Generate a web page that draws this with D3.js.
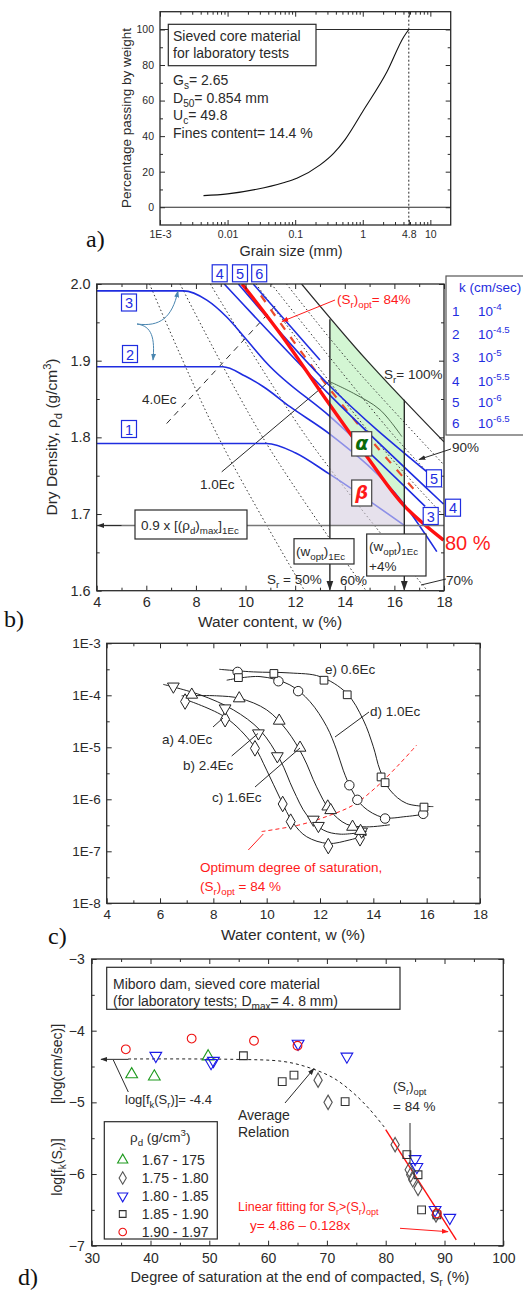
<!DOCTYPE html>
<html>
<head>
<meta charset="utf-8">
<script src="https://cdn.jsdelivr.net/npm/d3@7"></script>
<style>
body { margin: 0; background: #fff; }
svg { font-family: "Liberation Sans", Arial, sans-serif; }
</style>
</head>
<body>
<div id="chart"></div>
<script>
// ---------- a) grading curve ----------
const grainSize = [0.0044, 0.01, 0.027, 0.067, 0.106, 0.234, 0.37, 0.551, 1.03, 2.28, 4.03, 4.8];
const grainPassing = [6.5, 7.5, 10.1, 13.8, 16.3, 23.8, 30.3, 38.2, 54.7, 76.2, 95.8, 100];
const grainTicks = [0.001, 0.01, 0.1, 1, 4.8, 10];
const grainTickLabels = ['1E-3', '0.01', '0.1', '1', '4.8', '10'];
const passTicks = [0, 20, 40, 60, 80, 100];

// ---------- b) compaction plane, points are [w (%), rho_d] ----------
const kLine1 = [[4, 1.792], [10.85, 1.792], [12.0, 1.780], [13.34, 1.753], [16.43, 1.6845]];
const kLine2 = [[4, 1.892], [9.08, 1.892], [9.98, 1.880], [10.72, 1.866], [11.79, 1.840], [13.41, 1.804], [16.36, 1.714], [17.71, 1.651]];
const kLine3 = [[4, 1.991], [7.5, 1.991], [8.44, 1.979], [9.24, 1.957], [10.05, 1.927], [10.85, 1.897], [13.41, 1.827], [17.24, 1.710]];
const kLine4 = [[9.14, 2.0], [13.4, 1.855], [17.98, 1.713]];
const kLine5 = [[9.71, 2.0], [13.4, 1.867], [17.29, 1.7555]];
const kLine6 = [[10.31, 2.0], [13.0, 1.901]];
const kNumbers = ['1', '2', '3', '4', '5', '6'];
const kExponents = ['-4', '-4.5', '-5', '-5.5', '-6', '-6.5'];

const sr50 = [[6.13, 2.0], [8.91, 1.8], [12.38, 1.6]];
const sr60 = [[7.36, 2.0], [10.69, 1.8], [14.86, 1.6]];
const sr70 = [[8.58, 2.0], [12.47, 1.8], [17.33, 1.6]];
const sr85 = [[10.42, 2.0], [15.15, 1.8], [18, 1.6975]];
const sr90 = [[11.04, 2.0], [16.04, 1.8], [18, 1.732]];
const sr95 = [[11.65, 2.0], [14.15, 1.9], [18, 1.764]];
const sr100 = [[12.26, 2.0], [14.90, 1.9], [18, 1.794]];
const srOpt84 = [[10.62, 1.985], [12.51, 1.9], [14.97, 1.8], [16.85, 1.73]];
const sr80Red = [[9.86, 2.0], [11.52, 1.930], [13.21, 1.851], [14.89, 1.775], [16.36, 1.712], [17.98, 1.666]];
const optLine = [[9.04, 1.755], [13.37, 1.873]];
const curve1Ec = [[13.37, 1.873], [14.35, 1.8575], [15.42, 1.836], [16.3, 1.801]];
const dashed4Ec = [[6.82, 1.818], [11.3, 1.975]];
const greenZone = [[13.4, 1.954], [16.4, 1.849], [16.4, 1.685], [13.4, 1.685]];
const wOpt = 13.4, wOptPlus = 16.4, rho90 = 1.685;

// ---------- c) k vs w, values are [w (%), log10 k] ----------
const ptsA = [[6.94, -4.12], [8.44, -4.46], [9.56, -5.02], [10.6, -6.09], [10.9, -6.43], [12.31, -6.90], [13.5, -6.75]];
const ptsB = [[6.5, -3.83], [8.44, -4.25], [9.69, -4.73], [10.4, -5.17], [11.75, -6.39], [11.94, -6.51], [13.56, -6.62]];
const ptsC = [[7.19, -3.99], [8.97, -4.06], [10.47, -4.49], [11.25, -5.01], [12.29, -6.14], [12.4, -6.21], [13.22, -6.53], [13.52, -6.61]];
const ptsD = [[8.91, -3.55], [10.44, -3.73], [11.18, -3.92], [13.1, -5.73], [13.4, -6.01], [14.44, -6.37], [15.87, -6.28]];
const ptsE = [[8.94, -3.66], [10.27, -3.58], [12.15, -3.71], [13.02, -3.99], [14.29, -5.57], [14.44, -5.68], [15.9, -6.15]];
const fitA = [[7.0, -4.09], [8.44, -4.42], [9.5, -4.96], [10.0, -5.44], [10.5, -5.98], [11.0, -6.46], [11.5, -6.72], [12.31, -6.85], [13.12, -6.78], [13.75, -6.69]];
const fitB = [[6.12, -3.79], [7.5, -3.99], [8.75, -4.28], [9.75, -4.67], [10.5, -5.24], [11.0, -5.82], [11.5, -6.30], [12.12, -6.59], [12.75, -6.67], [13.75, -6.62]];
const fitC = [[6.81, -4.01], [8.12, -4.01], [9.0, -4.06], [10.0, -4.28], [10.75, -4.67], [11.37, -5.18], [11.87, -5.76], [12.37, -6.21], [13.0, -6.48], [13.75, -6.53], [14.62, -6.49]];
const fitD = [[8.5, -3.71], [9.75, -3.64], [10.87, -3.80], [11.62, -4.12], [12.25, -4.60], [12.62, -5.05], [12.87, -5.44], [13.19, -5.82], [13.62, -6.14], [14.37, -6.35], [15.25, -6.33], [16.0, -6.28]];
const fitE = [[8.22, -3.5], [9.5, -3.55], [10.87, -3.57], [12.0, -3.64], [13.0, -3.96], [13.62, -4.47], [14.0, -4.99], [14.25, -5.44], [14.62, -5.82], [15.25, -6.08], [16.25, -6.14]];
const optSatLine = [[9.81, -6.62], [11.25, -6.49], [12.25, -6.33], [13.25, -6.11], [14.12, -5.76], [15.0, -5.31], [15.62, -4.96]];
const kTickLabels = ['1E-8', '1E-7', '1E-6', '1E-5', '1E-4', '1E-3'];

// ---------- d) log fk vs Sr, values are [Sr (%), log fk] ----------
const dGreen = [[36.8, -4.61], [40.65, -4.64], [49.8, -4.36]];
const dDiamond = [[68.5, -4.69], [70.2, -5.0], [81.6, -5.59], [84.0, -5.94], [84.25, -6.01], [84.6, -6.08], [85.5, -6.2], [88.55, -6.57]];
const dBlue = [[40.9, -4.35], [50.3, -4.45], [50.7, -4.42], [65.1, -4.18], [73.4, -4.36], [85.0, -5.79], [85.3, -5.90], [88.4, -6.50], [90.9, -6.61]];
const dSquare = [[55.8, -4.35], [62.4, -4.71], [64.4, -4.62], [73.1, -4.99], [83.6, -5.73], [85.5, -6.01], [86.1, -6.50], [88.7, -6.57]];
const dRed = [[35.8, -4.26], [47.0, -4.11], [57.6, -4.14], [65.0, -4.21], [88.7, -6.55]];
const avgRelation = [[36.2, -4.395], [54.1, -4.40], [62.6, -4.43], [67.1, -4.52], [71.1, -4.66], [74.5, -4.87], [77.3, -5.1], [79.9, -5.36]];
const linearFit = [[80, -5.38], [92, -6.92]];
const rhoClasses = ['1.67 - 175', '1.75 - 1.80', '1.80 - 1.85', '1.85 - 1.90', '1.90 - 1.97'];

// ===================================================================
const INK = '#2a2a2a';
const BLUE = '#1f2de0';
const svg = d3.select('#chart').append('svg').attr('width', 523).attr('height', 1291);

const defs = svg.append('defs');
function arrowDef(id, color) {
    defs.append('marker').attr('id', id).attr('viewBox', '0 0 10 10')
        .attr('refX', 9).attr('refY', 5).attr('markerWidth', 7).attr('markerHeight', 7)
        .attr('orient', 'auto-start-reverse')
        .append('path').attr('d', 'M0,1.5 L10,5 L0,8.5 Z').attr('fill', color);
}
arrowDef('arrK', INK);
arrowDef('arrR', '#ff1a1a');
arrowDef('arrB', '#4a86b0');

// text with sub/superscripts
function rich(g, x, y, parts, o) {
    const fs = o.fs;
    const t = g.append('text').attr('x', x).attr('y', y).attr('font-size', fs)
        .attr('fill', o.fill || INK).attr('text-anchor', o.anchor || 'start');
    if (o.transform) t.attr('transform', o.transform);
    if (o.weight) t.attr('font-weight', o.weight);
    let shift = 0;
    parts.forEach(p => {
        const [s, m] = Array.isArray(p) ? p : [p, null];
        const target = m === 'sub' ? fs * 0.3 : m === 'sup' ? -fs * 0.42 : 0;
        t.append('tspan').attr('dy', target - shift).attr('font-size', m ? fs * 0.72 : fs).text(s);
        shift = target;
    });
    return t;
}

function frame(g, x, y, o) {
    const [x0, x1] = x.range();
    const [y0, y1] = y.range();
    const side = (axis, tr, vals, size, fmt, fs) => {
        const a = g.append('g').attr('transform', tr)
            .call(axis.tickValues(vals).tickSize(size).tickPadding(o.pad || 5).tickFormat(fmt || (() => '')));
        a.select('.domain').remove();
        a.selectAll('line').attr('stroke', INK);
        a.selectAll('text').attr('font-size', fs || 12).attr('fill', INK)
            .attr('font-family', '"Liberation Sans", Arial, sans-serif');
        return a;
    };
    side(d3.axisBottom(x), `translate(0,${y0})`, o.xMajor, -5, o.xFmt, o.fs);
    side(d3.axisBottom(x), `translate(0,${y0})`, o.xMinor, -3);
    side(d3.axisTop(x), `translate(0,${y1})`, o.xMajor, -5);
    side(d3.axisTop(x), `translate(0,${y1})`, o.xMinor, -3);
    side(d3.axisLeft(y), `translate(${x0},0)`, o.yMajor, -5, o.yFmt, o.fs);
    side(d3.axisLeft(y), `translate(${x0},0)`, o.yMinor, -3);
    side(d3.axisRight(y), `translate(${x1},0)`, o.yMajor, -5);
    side(d3.axisRight(y), `translate(${x1},0)`, o.yMinor, -3);
    g.append('rect').attr('x', x0).attr('y', y1).attr('width', x1 - x0).attr('height', y0 - y1)
        .attr('fill', 'none').attr('stroke', INK).attr('stroke-width', 1.3);
}

function panelTag(label, x, y) {
    svg.append('text').attr('x', x).attr('y', y).attr('font-family', '"Liberation Serif", serif')
        .attr('font-size', 24).attr('fill', '#111').text(label);
}

function boxed(g, x, y, w, h, stroke) {
    g.append('rect').attr('x', x).attr('y', y).attr('width', w).attr('height', h)
        .attr('fill', '#fff').attr('stroke', stroke || INK).attr('stroke-width', 1.2);
}

// ===================== panel a =====================
const ax = d3.scaleLog().domain([1e-3, 20]).range([160, 450.7]);
const ay = d3.scaleLinear().domain([-10, 110]).range([225, 11.7]);
const ga = svg.append('g');
const logMinor = [];
[-3, -2, -1, 0, 1].forEach(e => d3.range(2, 10).forEach(m => {
    const v = m * Math.pow(10, e);
    if (v < 20) logMinor.push(v);
}));
frame(ga, ax, ay, {
    xMajor: grainTicks, xMinor: logMinor, xFmt: (d, i) => grainTickLabels[i],
    yMajor: passTicks, yMinor: [10, 30, 50, 70, 90], yFmt: d3.format('d'), fs: 10.5, pad: 6
});
[0, 100].forEach(v => ga.append('line').attr('x1', ax.range()[0]).attr('x2', ax.range()[1])
    .attr('y1', ay(v)).attr('y2', ay(v)).attr('stroke', INK).attr('stroke-width', 1.2));
ga.append('line').attr('x1', ax(4.8)).attr('x2', ax(4.8)).attr('y1', ay(110)).attr('y2', ay(-10))
    .attr('stroke', INK).attr('stroke-dasharray', '2,2');
ga.append('path').datum(d3.zip(grainSize, grainPassing))
    .attr('fill', 'none').attr('stroke', '#111').attr('stroke-width', 1.1)
    .attr('d', d3.line().x(d => ax(d[0])).y(d => ay(d[1])).curve(d3.curveMonotoneX));
boxed(ga, 168.3, 24.3, 147.7, 41.4);
ga.append('text').attr('x', 173).attr('y', 41).attr('font-size', 14).attr('fill', INK).text('Sieved core material');
ga.append('text').attr('x', 173).attr('y', 58).attr('font-size', 14).attr('fill', INK).text('for laboratory tests');
rich(ga, 173, 85, ['G', ['s', 'sub'], '= 2.65'], { fs: 14 });
rich(ga, 173, 103, ['D', ['50', 'sub'], '= 0.854 mm'], { fs: 14 });
rich(ga, 173, 120, ['U', ['c', 'sub'], '= 49.8'], { fs: 14 });
ga.append('text').attr('x', 173).attr('y', 138).attr('font-size', 14).attr('fill', INK).text('Fines content= 14.4 %');
ga.append('text').attr('x', 291).attr('y', 256).attr('text-anchor', 'middle').attr('font-size', 14.5).attr('fill', INK).text('Grain size (mm)');
ga.append('text').attr('transform', 'translate(131,118) rotate(-90)').attr('text-anchor', 'middle')
    .attr('font-size', 13.5).attr('fill', INK).text('Percentage passing by weight');
panelTag('a)', 86, 247);

// ===================== panel b =====================
const bx = d3.scaleLinear().domain([4, 18]).range([96.7, 444]);
const by = d3.scaleLinear().domain([1.6, 2.0]).range([590.7, 284]);
const gb = svg.append('g');
defs.append('clipPath').attr('id', 'clipB').append('rect')
    .attr('x', 96.7).attr('y', 284).attr('width', 444 - 96.7).attr('height', 590.7 - 284);
defs.append('clipPath').attr('id', 'clipZone').append('rect')
    .attr('x', bx(wOpt)).attr('y', 284).attr('width', bx(wOptPlus) - bx(wOpt)).attr('height', by(rho90) - 284);
const bLine = d3.line().x(d => bx(d[0])).y(d => by(d[1]));
const bCurve = d3.line().x(d => bx(d[0])).y(d => by(d[1])).curve(d3.curveCatmullRom);
const lavArea = d3.area().x(d => bx(d[0])).y0(by(rho90)).y1(d => by(d[1])).curve(d3.curveCatmullRom);

const plotB = gb.append('g').attr('clip-path', 'url(#clipB)');
plotB.append('path').attr('fill', '#d3f6d3').attr('d', bLine(greenZone) + 'Z');
plotB.append('g').attr('clip-path', 'url(#clipZone)').append('path').datum(sr80Red)
    .attr('fill', '#e5dfea').attr('d', lavArea);

[sr50, sr60, sr70, sr85, sr90, sr95].forEach(s => plotB.append('path').datum(s)
    .attr('fill', 'none').attr('stroke', '#333').attr('stroke-width', 1).attr('stroke-dasharray', '1.5,2.5')
    .attr('d', bCurve));
plotB.append('path').datum(sr100).attr('fill', 'none').attr('stroke', INK).attr('stroke-width', 1.2).attr('d', bCurve);
plotB.append('path').datum(dashed4Ec).attr('fill', 'none').attr('stroke', INK).attr('stroke-width', 1)
    .attr('stroke-dasharray', '6,5').attr('d', bCurve);
plotB.append('path').datum(optLine).attr('fill', 'none').attr('stroke', INK).attr('stroke-width', 1).attr('d', bCurve);
plotB.append('path').datum(curve1Ec).attr('fill', 'none').attr('stroke', '#4d6b4d').attr('stroke-width', 1).attr('d', bCurve);
plotB.append('path').datum(srOpt84).attr('fill', 'none').attr('stroke', '#ec4a2c').attr('stroke-width', 2.2)
    .attr('stroke-dasharray', '8,9').attr('d', bCurve);

[kLine1, kLine2, kLine3, kLine4, kLine5, kLine6].forEach(k => plotB.append('path').datum(k)
    .attr('fill', 'none').attr('stroke', BLUE).attr('stroke-width', 1.6)
    .attr('d', d3.line().x(d => bx(d[0])).y(d => by(d[1])).curve(d3.curveMonotoneX)));

// lighten what lies inside the beta zone
plotB.append('g').attr('clip-path', 'url(#clipZone)').append('path').datum(sr80Red)
    .attr('fill', '#e8e2ed').attr('opacity', 0.55).attr('d', lavArea);
plotB.append('path').datum(sr80Red).attr('fill', 'none').attr('stroke', '#ff1010').attr('stroke-width', 3.4)
    .attr('d', bCurve);

// zone frame, 0.9 line and arrows
gb.append('line').attr('x1', bx(4)).attr('x2', bx(18)).attr('y1', by(rho90)).attr('y2', by(rho90))
    .attr('stroke', '#777').attr('stroke-width', 1.5);
gb.append('line').attr('x1', bx(5)).attr('x2', bx(4) + 1).attr('y1', by(rho90)).attr('y2', by(rho90))
    .attr('stroke', INK).attr('stroke-width', 1).attr('marker-end', 'url(#arrK)');
gb.append('line').attr('x1', bx(wOpt)).attr('x2', bx(wOpt)).attr('y1', by(greenZone[0][1])).attr('y2', by(1.6) - 1)
    .attr('stroke', INK).attr('stroke-width', 1.4).attr('marker-end', 'url(#arrK)');
gb.append('line').attr('x1', bx(wOptPlus)).attr('x2', bx(wOptPlus)).attr('y1', by(greenZone[1][1])).attr('y2', by(1.6) - 1)
    .attr('stroke', INK).attr('stroke-width', 1.4).attr('marker-end', 'url(#arrK)');

frame(gb, bx, by, {
    xMajor: d3.range(4, 19, 2), xMinor: d3.range(5, 18, 2), xFmt: d3.format('d'),
    yMajor: [1.6, 1.7, 1.8, 1.9, 2.0], yMinor: [1.65, 1.75, 1.85, 1.95], yFmt: d3.format('.1f'), fs: 14.5, pad: 6
});

// number boxes
function numBox(cx, cy, label) {
    gb.append('rect').attr('x', cx - 7.5).attr('y', cy - 8.5).attr('width', 15).attr('height', 17)
        .attr('fill', '#fff').attr('stroke', BLUE).attr('stroke-width', 1.2);
    gb.append('text').attr('x', cx).attr('y', cy + 5.5).attr('text-anchor', 'middle')
        .attr('font-size', 14.5).attr('fill', BLUE).text(label);
}
numBox(129, 302.5, kNumbers[2]);
numBox(130, 354, kNumbers[1]);
numBox(129, 429, kNumbers[0]);
numBox(219.7, 273.3, kNumbers[3]);
numBox(240, 273.3, kNumbers[4]);
numBox(259.2, 273.3, kNumbers[5]);
numBox(434, 478.3, kNumbers[4]);
numBox(453, 507.7, kNumbers[3]);
numBox(430.7, 516, kNumbers[2]);

// k legend
gb.append('rect').attr('x', 446).attr('y', 276).attr('width', 90).attr('height', 159)
    .attr('fill', '#fff').attr('stroke', '#555').attr('stroke-width', 1.2);
gb.append('text').attr('x', 459).attr('y', 292).attr('font-size', 13.5).attr('fill', BLUE).text('k (cm/sec)');
[316, 339, 362, 386, 407, 428].forEach((yy, i) => {
    gb.append('text').attr('x', 452).attr('y', yy).attr('font-size', 13.5).attr('fill', BLUE).text(kNumbers[i]);
    rich(gb, 478, yy, ['10', [kExponents[i], 'sup']], { fs: 13.5, fill: BLUE });
});

// blue curved arrows
gb.append('path').attr('d', 'M137,324 C160,327 172,318 178,291').attr('fill', 'none')
    .attr('stroke', '#4a86b0').attr('stroke-width', 1).attr('marker-end', 'url(#arrB)');
gb.append('path').attr('d', 'M137,324 C152,326 155,338 153,360').attr('fill', 'none')
    .attr('stroke', '#4a86b0').attr('stroke-width', 1).attr('marker-end', 'url(#arrB)');

// annotations
rich(gb, 384, 379, ['S', ['r', 'sub'], '= 100%'], { fs: 13.5 });
rich(gb, 337, 304, ['(S', ['r', 'sub'], ')', ['opt', 'sub'], '= 84%'], { fs: 13.5, fill: '#ff1a1a' });
gb.append('line').attr('x1', 335).attr('y1', 300).attr('x2', 282).attr('y2', 321.5)
    .attr('stroke', '#ff1a1a').attr('stroke-width', 1).attr('marker-end', 'url(#arrR)');
gb.append('text').attr('x', 445).attr('y', 550).attr('font-size', 20).attr('fill', '#ff1a1a').text('80 %');
gb.append('text').attr('x', 452).attr('y', 452).attr('font-size', 13.5).attr('fill', INK).text('90%');
gb.append('line').attr('x1', 451).attr('y1', 449).attr('x2', 419).attr('y2', 459.5)
    .attr('stroke', INK).attr('stroke-width', 1).attr('marker-end', 'url(#arrK)');
gb.append('text').attr('x', 446).attr('y', 585).attr('font-size', 13.5).attr('fill', INK).text('70%');
gb.append('line').attr('x1', 446).attr('y1', 579).attr('x2', 421).attr('y2', 585)
    .attr('stroke', INK).attr('stroke-width', 1);
rich(gb, 267, 584, ['S', ['r', 'sub'], ' = 50%'], { fs: 13.5 });
gb.append('text').attr('x', 340).attr('y', 585).attr('font-size', 13.5).attr('fill', INK).text('60%');
gb.append('text').attr('x', 142).attr('y', 404).attr('font-size', 13.5).attr('fill', INK).text('4.0Ec');
gb.append('text').attr('x', 200).attr('y', 489).attr('font-size', 13.5).attr('fill', INK).text('1.0Ec');

boxed(gb, 135, 510, 112, 29);
rich(gb, 141, 530, ['0.9 x [(ρ', ['d', 'sub'], ')', ['max', 'sub'], ']', ['1Ec', 'sub']], { fs: 13.5 });
boxed(gb, 294, 538.7, 60, 25.3);
rich(gb, 296, 556, ['(w', ['opt', 'sub'], ')', ['1Ec', 'sub']], { fs: 13.5 });
boxed(gb, 366.7, 534, 59.3, 42);
rich(gb, 369, 551, ['(w', ['opt', 'sub'], ')', ['1Ec', 'sub']], { fs: 13.5 });
gb.append('text').attr('x', 369).attr('y', 571).attr('font-size', 13.5).attr('fill', INK).text('+4%');

boxed(gb, 351.7, 431.7, 20, 24.3, '#444');
gb.append('text').attr('x', 361.7).attr('y', 450).attr('text-anchor', 'middle').attr('font-size', 19)
    .attr('font-weight', 'bold').attr('font-style', 'italic').attr('fill', '#0b6b0b')
    .attr('font-family', '"DejaVu Sans", sans-serif').text('α');
boxed(gb, 351.7, 480, 20, 26, '#444');
gb.append('text').attr('x', 361.7).attr('y', 499).attr('text-anchor', 'middle').attr('font-size', 18)
    .attr('font-weight', 'bold').attr('font-style', 'italic').attr('fill', '#ff1a1a')
    .attr('font-family', '"DejaVu Sans", sans-serif').text('β');

gb.append('text').attr('x', 270).attr('y', 627).attr('text-anchor', 'middle').attr('font-size', 15.5)
    .attr('fill', INK).text('Water content, w (%)');
rich(gb, 0, 0, ['Dry Density, ρ', ['d', 'sub'], ' (g/cm', ['3', 'sup'], ')'],
    { fs: 15.5, anchor: 'middle', transform: 'translate(57,437) rotate(-90)' });
panelTag('b)', 4, 627);

// ===================== panel c =====================
const cx = d3.scaleLinear().domain([4, 18]).range([106.7, 480]);
const cy = d3.scaleLinear().domain([-8, -3]).range([903.3, 643.3]);
const gc = svg.append('g');
frame(gc, cx, cy, {
    xMajor: d3.range(4, 19, 2), xMinor: d3.range(5, 18, 2), xFmt: d3.format('d'),
    yMajor: [-8, -7, -6, -5, -4, -3], yMinor: [-7.5, -6.5, -5.5, -4.5, -3.5],
    yFmt: (d, i) => kTickLabels[i], fs: 13.5, pad: 6
});
const cLine = d3.line().x(d => cx(d[0])).y(d => cy(d[1])).curve(d3.curveCatmullRom);
[fitA, fitB, fitC, fitD, fitE].forEach(f => gc.append('path').datum(f)
    .attr('fill', 'none').attr('stroke', '#222').attr('stroke-width', 1).attr('d', cLine));
gc.append('path').datum(optSatLine).attr('fill', 'none').attr('stroke', '#ff2020').attr('stroke-width', 1)
    .attr('stroke-dasharray', '4,3').attr('d', cLine);
const cSeries = [
    [ptsA, d3.symbolDiamond, 70], [ptsB, d3.symbolTriangle, 60], [ptsC, d3.symbolTriangle, 60],
    [ptsD, d3.symbolCircle, 70], [ptsE, d3.symbolSquare, 60]
];
cSeries.forEach(([pts, sym, size], i) => {
    gc.selectAll(null).data(pts).enter().append('path')
        .attr('transform', d => `translate(${cx(d[0])},${cy(d[1])})${i === 1 ? ' rotate(180)' : ''}`)
        .attr('d', d3.symbol(sym, size)).attr('fill', '#fff').attr('stroke', '#222').attr('stroke-width', 1);
});
// labels and leaders
const cLabel = (t, x, y) => gc.append('text').attr('x', x).attr('y', y).attr('font-size', 13.5).attr('fill', INK).text(t);
cLabel('e) 0.6Ec', 325, 674);
cLabel('d) 1.0Ec', 370, 716);
cLabel('a) 4.0Ec', 162, 744);
cLabel('b) 2.4Ec', 183, 770);
cLabel('c) 1.6Ec', 212, 802);
const lead = (g, x1, y1, x2, y2, c) => g.append('line').attr('x1', x1).attr('y1', y1).attr('x2', x2).attr('y2', y2)
    .attr('stroke', c || INK).attr('stroke-width', 1);
lead(gc, 369, 712, 335, 737);
lead(gc, 213, 727, 223, 718);
lead(gc, 231.7, 756, 258, 733.5);
lead(gc, 255, 787, 300, 748);
lead(gc, 248.3, 850, 263.3, 834, '#ff2020');
gc.append('text').attr('x', 200).attr('y', 872).attr('font-size', 13.5).attr('fill', '#ff1a1a').text('Optimum degree of saturation,');
rich(gc, 200, 891, ['(S', ['r', 'sub'], ')', ['opt', 'sub'], ' = 84 %'], { fs: 13.5, fill: '#ff1a1a' });
gc.append('text').attr('x', 293).attr('y', 940).attr('text-anchor', 'middle').attr('font-size', 15.5)
    .attr('fill', INK).text('Water content, w (%)');
panelTag('c)', 48, 944);

// ===================== panel d =====================
const dx = d3.scaleLinear().domain([30, 100]).range([91.7, 503.3]);
const dy = d3.scaleLinear().domain([-7, -3]).range([1245.7, 959]);
const gd = svg.append('g');
frame(gd, dx, dy, {
    xMajor: d3.range(30, 101, 10), xMinor: d3.range(35, 100, 10), xFmt: d3.format('d'),
    yMajor: [-7, -6, -5, -4, -3], yMinor: [-6.5, -5.5, -4.5, -3.5], yFmt: d3.format('d'), fs: 14, pad: 7
});
const dLine = d3.line().x(d => dx(d[0])).y(d => dy(d[1])).curve(d3.curveCatmullRom);
gd.append('path').datum(avgRelation).attr('fill', 'none').attr('stroke', '#222').attr('stroke-width', 1)
    .attr('stroke-dasharray', '3,3').attr('d', dLine);
gd.append('path').datum(linearFit).attr('fill', 'none').attr('stroke', '#ff1010').attr('stroke-width', 1.4).attr('d', dLine);

const dSeries = [
    [dGreen, d3.symbolTriangle, '#1e9a1e', false],
    [dDiamond, d3.symbolDiamond, '#555', false],
    [dBlue, d3.symbolTriangle, '#1a1ae6', true],
    [dSquare, d3.symbolSquare, '#333', false],
    [dRed, d3.symbolCircle, '#ee1111', false]
];
dSeries.forEach(([pts, sym, col, flip]) => {
    gd.selectAll(null).data(pts).enter().append('path')
        .attr('transform', d => `translate(${dx(d[0])},${dy(d[1])})${flip ? ' rotate(180)' : ''}`)
        .attr('d', d3.symbol(sym, 60)).attr('fill', 'none').attr('stroke', col).attr('stroke-width', 1.1);
});

boxed(gd, 106.7, 967.3, 293.3, 42);
gd.append('text').attr('x', 113).attr('y', 989).attr('font-size', 14).attr('fill', INK).text('Miboro dam, sieved core material');
rich(gd, 113, 1006, ['(for laboratory tests; D', ['max', 'sub'], '= 4. 8 mm)'], { fs: 14 });

// arrow for -4.4 level
gd.append('line').attr('x1', 128.5).attr('y1', dy(-4.4)).attr('x2', 101).attr('y2', dy(-4.4))
    .attr('stroke', INK).attr('stroke-width', 1).attr('marker-end', 'url(#arrK)');
lead(gd, 128.3, 1092, 113.3, 1060);
rich(gd, 125, 1104, ['log[f', ['k', 'sub'], '(S', ['r', 'sub'], ')]= -4.4'], { fs: 13 });
gd.append('text').attr('x', 238).attr('y', 1120).attr('font-size', 14).attr('fill', INK).text('Average');
gd.append('text').attr('x', 238).attr('y', 1137).attr('font-size', 14).attr('fill', INK).text('Relation');
gd.append('line').attr('x1', 285).attr('y1', 1103).attr('x2', 314).attr('y2', 1068.5)
    .attr('stroke', INK).attr('stroke-width', 1).attr('marker-end', 'url(#arrK)');
rich(gd, 393, 1091, ['(S', ['r', 'sub'], ')', ['opt', 'sub']], { fs: 13 });
gd.append('text').attr('x', 393).attr('y', 1111).attr('font-size', 13.5).attr('fill', INK).text('= 84 %');
gd.append('line').attr('x1', 410).attr('y1', 1123).attr('x2', 410).attr('y2', 1164)
    .attr('stroke', INK).attr('stroke-width', 1);
rich(gd, 238, 1211, ['Linear fitting for S', ['r', 'sub'], '>(S', ['r', 'sub'], ')', ['opt', 'sub']], { fs: 12.5, fill: '#ff1a1a' });
gd.append('text').attr('x', 250).attr('y', 1230).attr('font-size', 13.5).attr('fill', '#ff1a1a').text('y= 4.86 – 0.128x');
gd.append('line').attr('x1', 400).attr('y1', 1228.3).attr('x2', 448).attr('y2', 1231.7)
    .attr('stroke', '#ff1a1a').attr('stroke-width', 1).attr('marker-end', 'url(#arrR)');

// legend
boxed(gd, 104.3, 1121.7, 113, 117.3);
rich(gd, 130, 1142, ['ρ', ['d', 'sub'], ' (g/cm', ['3', 'sup'], ')'], { fs: 13.5 });
[1160, 1178, 1196, 1214, 1232].forEach((yy, i) => {
    const [, sym, col, flip] = dSeries[i];
    gd.append('path').attr('transform', `translate(122.7,${yy})${flip ? ' rotate(180)' : ''}`)
        .attr('d', d3.symbol(sym, 45)).attr('fill', 'none').attr('stroke', col).attr('stroke-width', 1.1);
    gd.append('text').attr('x', 141.7).attr('y', yy + 5).attr('font-size', 14).attr('fill', INK).text(rhoClasses[i]);
});

rich(gd, 0, 0, ['[log(cm/sec)]'], { fs: 14, anchor: 'middle', transform: 'translate(62,1064) rotate(-90)' });
rich(gd, 0, 0, ['log[f', ['k', 'sub'], '(S', ['r', 'sub'], ')]'], { fs: 14, anchor: 'middle', transform: 'translate(62,1167) rotate(-90)' });
rich(gd, 300, 1282, ['Degree of saturation at the end of compacted, S', ['r', 'sub'], ' (%)'], { fs: 14.5, anchor: 'middle' });
panelTag('d)', 18, 1285);
</script>
</body>
</html>
